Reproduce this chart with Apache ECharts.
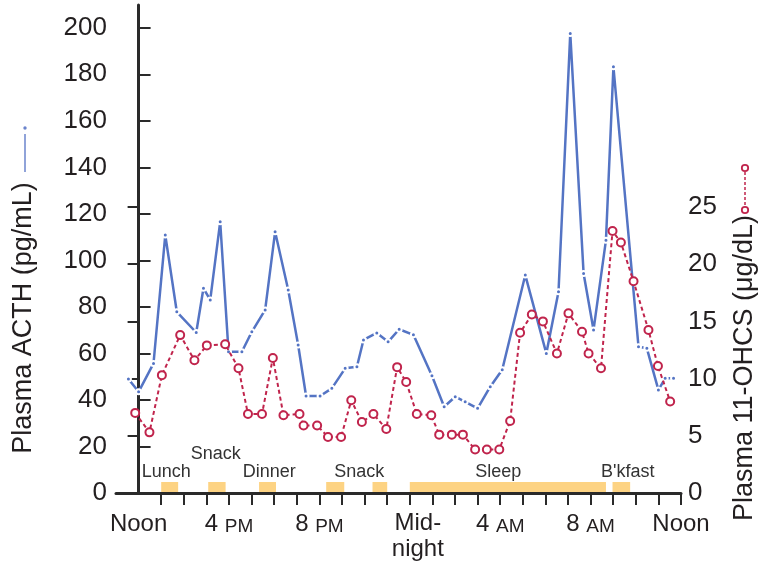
<!DOCTYPE html>
<html><head><meta charset="utf-8">
<script src="https://cdn.jsdelivr.net/npm/echarts@6/dist/echarts.min.js"></script>
<style>html,body{margin:0;padding:0;background:#fff}#c{width:761px;height:571px}</style>
</head><body><div id="c"></div>
<script>
// Hours since noon (x)
const acthHours = [-0.45, 0.0, 0.66, 1.18, 1.69, 2.55, 2.87, 3.17, 3.61, 3.98, 4.57, 5.01, 5.60, 6.04, 6.62, 7.06, 7.41, 8.03, 8.55, 9.14, 9.66, 9.95, 10.54, 11.04, 11.53, 12.16, 12.98, 13.52, 14.01, 14.45, 15.0, 15.56, 16.09, 17.11, 18.04, 18.58, 19.10, 19.69, 20.13, 20.68, 21.01, 22.12, 22.49, 23.0, 23.3, 23.67];
const acthValues = [49, 43.5, 55.7, 110.9, 77.9, 69, 88, 83, 116.6, 60.7, 60.7, 69.3, 78.7, 112.3, 87.3, 63.6, 41.7, 41.7, 45, 53.6, 54.3, 65.8, 68.8, 65, 70.4, 68, 50.4, 37.1, 41.4, 39.2, 36.4, 45.7, 53, 93.7, 60, 86.5, 197.6, 94.4, 70.1, 108.7, 183.2, 62.9, 62.2, 44.3, 49.3, 49.3];
const ohcsHours = [-0.15, 0.48, 1.03, 1.84, 2.47, 3.02, 3.83, 4.42, 4.84, 5.46, 5.94, 6.41, 7.12, 7.30, 7.90, 8.38, 8.96, 9.41, 9.88, 10.39, 10.96, 11.44, 11.84, 12.31, 12.95, 13.30, 13.86, 14.35, 14.89, 15.41, 15.96, 16.44, 16.88, 17.40, 17.89, 18.51, 19.02, 19.62, 19.91, 20.46, 20.97, 21.34, 21.90, 22.56, 22.98, 23.52];
const ohcsValues = [7.0, 5.3, 10.3, 13.8, 11.6, 12.9, 13.0, 10.9, 6.9, 6.9, 11.8, 6.8, 6.9, 5.9, 5.9, 4.9, 4.9, 8.1, 6.2, 6.9, 5.6, 11.0, 9.7, 6.9, 6.8, 5.1, 5.1, 5.1, 3.8, 3.8, 3.8, 6.3, 14.0, 15.6, 15.0, 12.2, 15.7, 14.1, 12.2, 10.9, 22.9, 21.9, 18.5, 14.25, 11.1, 8.0];

const mealStart = [1.0, 3.08, 5.33, 8.3, 10.35, 12.0, 20.97];
const mealEnd   = [1.75, 3.85, 6.08, 9.1, 11.0, 20.68, 21.75];
const mealLabels = ['Lunch', 'Snack', 'Dinner', 'Snack', 'Sleep', "B'kfast"];
const mealLabelHours = [1.22, 3.41, 5.78, 9.76, 15.91, 21.64];
const mealLabelRaised = [0, 1, 0, 0, 0, 0];

const xTickHours = [1,2,3,4,5,6,7,8,9,10,11,12,13,14,15,16,17,18,19,20,21,22,23,24];
const xLabelHours = [0, 4, 8, 12, 16, 20, 24];
const xLabelText = ['Noon', '4 PM', '8 PM', 'Mid-\nnight', '4 AM', '8 AM', 'Noon'];
const acthTicks = [0, 20, 40, 60, 80, 100, 120, 140, 160, 180, 200];
const ohcsTicks = [0, 5, 10, 15, 20, 25];

const FONT = '"Liberation Sans", Arial, Helvetica, sans-serif';
const TXT = '#231f20';
const BLUE = '#5474c4';
const RED = '#c0244c';
const AXIS = '#2a2a2a';

function xLabelFmt(v) {
  const i = xLabelHours.indexOf(v);
  if (i < 0) return '';
  const t = xLabelText[i];
  if (t.indexOf('\n') >= 0) {
    return t.split('\n').map(s => '{m|' + s + '}').join('\n');
  }
  const parts = t.split(' ');
  if (parts.length === 2) return '{n|' + parts[0] + ' }{s|' + parts[1] + '}';
  return '{n|' + t + '}';
}

const chart = echarts.init(document.getElementById('c'), null, {renderer: 'canvas'});
chart.setOption({
  animation: false,
  backgroundColor: '#fff',
  grid: [
    {left: 116, right: 80, top: 5, bottom: 78},
    {left: 116, right: 80, top: 193, bottom: 78}
  ],
  xAxis: [
    {
      type: 'value', gridIndex: 0, min: -1, max: 24,
      axisLine: {show: true, lineStyle: {color: AXIS, width: 3}},
      axisTick: {show: true, customValues: xTickHours, length: 12, lineStyle: {color: AXIS, width: 2}},
      axisLabel: {
        show: true, customValues: xLabelHours, margin: 17, formatter: xLabelFmt,
        color: TXT, fontFamily: FONT,
        rich: {
          n: {fontSize: 24, fontFamily: FONT, color: TXT, lineHeight: 26, verticalAlign: 'bottom'},
          s: {fontSize: 19, fontFamily: FONT, color: TXT, lineHeight: 26, verticalAlign: 'bottom'},
          m: {fontSize: 24, fontFamily: FONT, color: TXT, lineHeight: 26, padding: [0, 0, 0, 16]}
        }
      },
      splitLine: {show: false}
    },
    {type: 'value', gridIndex: 1, min: -1, max: 24, show: false}
  ],
  yAxis: [
    {
      type: 'value', gridIndex: 0, position: 'left', min: 0, max: 209.8,
      axisLine: {show: true, lineStyle: {color: AXIS, width: 3}},
      axisTick: {show: true, inside: true, customValues: acthTicks, length: 12, lineStyle: {color: AXIS, width: 2}},
      axisLabel: {customValues: acthTicks, fontSize: 26, fontFamily: FONT, color: TXT, margin: 9},
      splitLine: {show: false}
    },
    {
      type: 'value', gridIndex: 1, position: 'right', min: 0, max: 26.22,
      axisLine: {show: true, lineStyle: {color: AXIS, width: 3}},
      axisTick: {show: true, inside: true, customValues: ohcsTicks, length: 11, lineStyle: {color: AXIS, width: 2}},
      axisLabel: {customValues: ohcsTicks, fontSize: 26, fontFamily: FONT, color: TXT, margin: 7},
      splitLine: {show: false}
    }
  ],
  graphic: [
    {type: 'text', x: 24, y: 318, rotation: Math.PI / 2,
      style: {text: 'Plasma ACTH (pg/mL)', font: '27px ' + FONT, fill: TXT, align: 'center', verticalAlign: 'middle'}},
    {type: 'line', shape: {x1: 25, y1: 134, x2: 25, y2: 172}, style: {stroke: '#6b84cc', lineWidth: 1.5}},
    {type: 'circle', shape: {cx: 25, cy: 128, r: 1.7}, style: {fill: '#6b84cc'}},
    {type: 'text', x: 745, y: 368, rotation: Math.PI / 2,
      style: {text: 'Plasma 11-OHCS (\u03bcg/dL)', font: '27px ' + FONT, fill: TXT, align: 'center', verticalAlign: 'middle'}},
    {type: 'line', shape: {x1: 745, y1: 172, x2: 745, y2: 207}, style: {stroke: RED, lineWidth: 1.5, lineDash: [3, 2]}},
    {type: 'circle', shape: {cx: 745, cy: 168, r: 3.2}, style: {fill: '#fff', stroke: RED, lineWidth: 1.8}},
    {type: 'circle', shape: {cx: 745, cy: 210, r: 3.2}, style: {fill: '#fff', stroke: RED, lineWidth: 1.8}}
  ],
  series: [
    {
      type: 'custom', xAxisIndex: 0, yAxisIndex: 0, silent: true, z: 1,
      data: mealStart.map((s, i) => [s, mealEnd[i]]),
      encode: {x: [0, 1]},
      renderItem: function (params, api) {
        const p0 = api.coord([api.value(0), 0]);
        const p1 = api.coord([api.value(1), 0]);
        return {type: 'rect', shape: {x: p0[0], y: p0[1] - 11, width: p1[0] - p0[0], height: 10},
          style: {fill: '#fdd383'}};
      }
    },
    {
      type: 'custom', xAxisIndex: 0, yAxisIndex: 0, silent: true, z: 2,
      data: mealLabelHours.map((h, i) => [h, mealLabelRaised[i]]),
      encode: {x: 0},
      renderItem: function (params, api) {
        const p = api.coord([api.value(0), 0]);
        const up = api.value(1) ? 39 : 21;
        return {type: 'text', x: p[0], y: p[1] - up,
          style: {text: mealLabels[params.dataIndex], fill: '#333', font: '18px ' + FONT, align: 'center', verticalAlign: 'middle'}};
      }
    },
    {
      name: 'Plasma ACTH', type: 'line', xAxisIndex: 0, yAxisIndex: 0, z: 3,
      data: acthHours.map((h, i) => [h, acthValues[i]]),
      showAllSymbol: true, symbol: 'circle', symbolSize: 5,
      lineStyle: {color: BLUE, width: 2.5},
      itemStyle: {color: BLUE, borderColor: '#fff', borderWidth: 2}
    },
    {
      name: 'Plasma 11-OHCS', type: 'line', xAxisIndex: 1, yAxisIndex: 1, z: 4,
      data: ohcsHours.map((h, i) => [h, ohcsValues[i]]),
      showAllSymbol: true, symbol: 'circle', symbolSize: 8,
      lineStyle: {color: RED, width: 2, type: [4, 3]},
      itemStyle: {color: '#fff', borderColor: RED, borderWidth: 2}
    }
  ]
});
</script>
</body></html>
